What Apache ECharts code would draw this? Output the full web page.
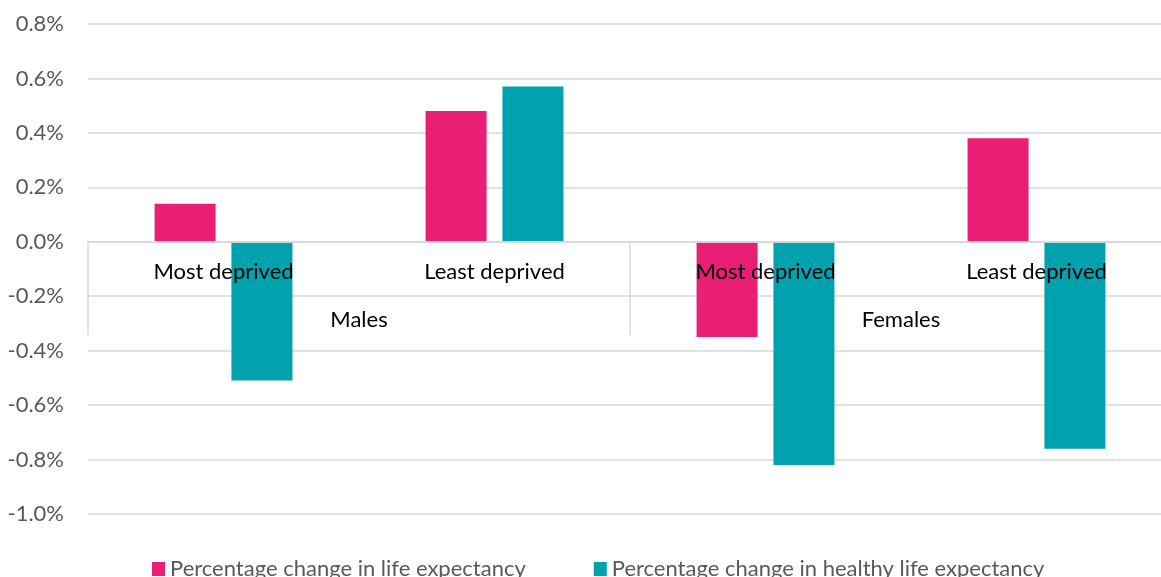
<!DOCTYPE html>
<html>
<head>
<meta charset="utf-8">
<script src="https://cdn.jsdelivr.net/npm/echarts@6/dist/echarts.min.js"></script>
<style>
  html, body { margin: 0; padding: 0; background: #fff; }
  #chart { width: 1161px; height: 577px; }
</style>
</head>
<body>
<div id="chart"></div>
<script>
  // values in percent
  let groups = ['Males', 'Females'];
  let categories = ['Most deprived', 'Least deprived', 'Most deprived', 'Least deprived'];
  let lifeExp = [0.14, 0.48, -0.35, 0.38];
  let healthyLifeExp = [-0.51, 0.57, -0.82, -0.76];
  let seriesNames = ['Percentage change in life expectancy', 'Percentage change in healthy life expectancy'];

  let font = 'Lato';
  let zeroOffset = -272; // bottom of grid up to the 0% line
  let chart = echarts.init(document.getElementById('chart'));
  let option = {
    animation: false,
    color: ['#e91e75', '#00a3ad'],
    grid: {
      left: 88,
      top: 24,
      width: 1084,
      height: 490,
      outerBoundsMode: 'none'
    },
    legend: {
      left: 147,
      top: 553,
      itemWidth: 13,
      itemHeight: 14,
      itemGap: 68,
      icon: 'rect',
      textStyle: { fontFamily: font, fontSize: 22, color: '#595959' },
      data: seriesNames
    },
    xAxis: [
      {
        type: 'category',
        data: categories,
        position: 'bottom',
        offset: zeroOffset,
        z: 10,
        axisLine: { onZero: false, lineStyle: { color: '#d9d9d9', width: 1.5 } },
        axisTick: { show: false },
        axisLabel: { margin: 19, fontFamily: font, fontSize: 22, color: '#000' }
      },
      {
        type: 'category',
        data: groups,
        position: 'bottom',
        offset: zeroOffset,
        z: 10,
        axisLine: { onZero: false, lineStyle: { color: '#d9d9d9', width: 1.5 } },
        axisTick: { show: true, length: 93, interval: 0, lineStyle: { color: '#d9d9d9', width: 1.5 } },
        axisLabel: { margin: 67, fontFamily: font, fontSize: 22, color: '#000' }
      }
    ],
    yAxis: {
      type: 'value',
      min: -1.0,
      max: 0.8,
      interval: 0.2,
      axisLine: { show: false },
      axisTick: { show: false },
      splitLine: { lineStyle: { color: '#d9d9d9', width: 1.5 } },
      axisLabel: {
        margin: 24,
        fontFamily: font,
        fontSize: 22,
        color: '#595959',
        formatter: function (v) { return v.toFixed(1) + '%'; }
      }
    },
    series: [
      {
        name: seriesNames[0],
        type: 'bar',
        xAxisIndex: 0,
        barWidth: 61,
        barGap: '26%',
        data: lifeExp
      },
      {
        name: seriesNames[1],
        type: 'bar',
        xAxisIndex: 0,
        barWidth: 61,
        barGap: '26%',
        data: healthyLifeExp
      }
    ]
  };
  chart.setOption(option);
</script>
</body>
</html>
